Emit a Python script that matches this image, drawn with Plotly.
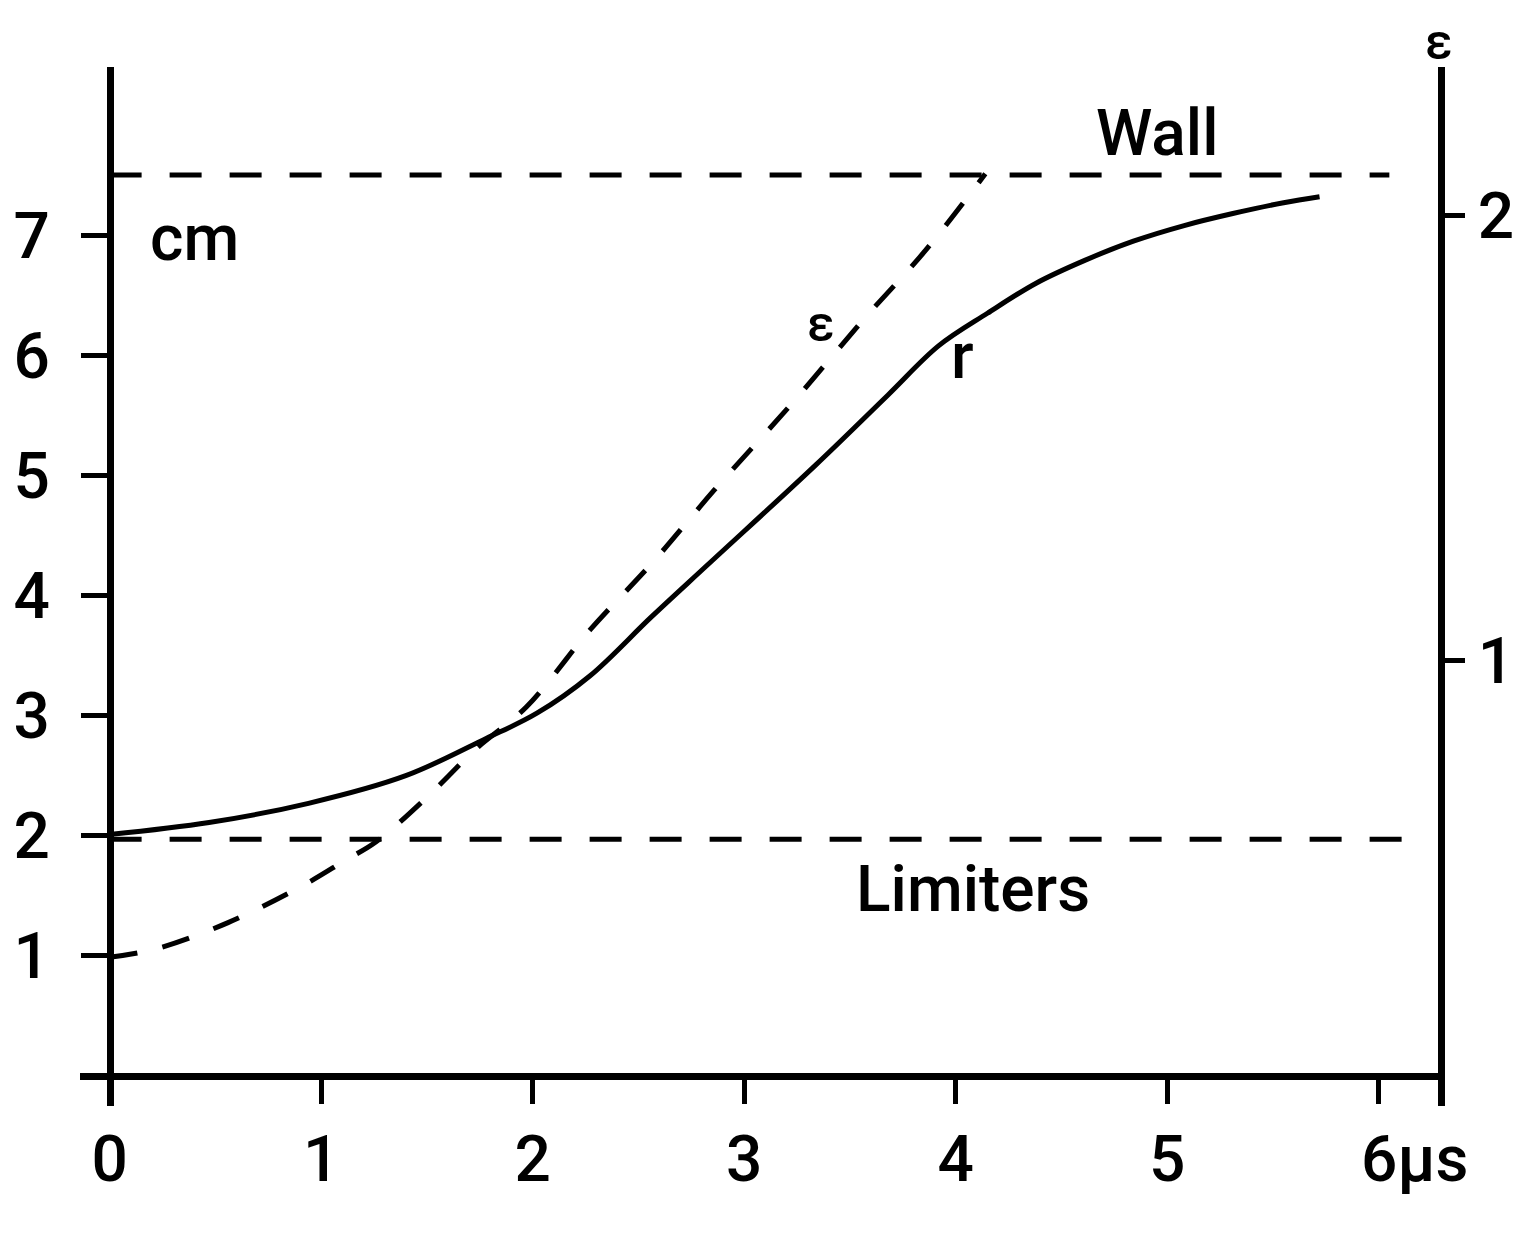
import plotly.graph_objects as go

# ---- data (time in microseconds, radius in cm, epsilon dimensionless) ----
t_r = [0.00, 0.47, 0.94, 1.40, 1.78, 2.02, 2.27, 2.56, 2.83, 3.34, 3.68, 3.92,
       4.15, 4.38, 4.61, 4.84, 5.08, 5.31, 5.55, 5.72]
r_cm = [2.01, 2.11, 2.27, 2.50, 2.81, 3.02, 3.33, 3.82, 4.26, 5.09, 5.67, 6.08,
        6.35, 6.60, 6.79, 6.95, 7.08, 7.18, 7.27, 7.32]

t_eps = [0.00, 0.22, 0.56, 0.92, 1.11, 1.26, 1.50, 1.73, 1.97, 2.27, 2.57, 2.86,
         3.22, 3.57, 3.86, 4.14]
eps = [0.332, 0.351, 0.410, 0.495, 0.549, 0.592, 0.692, 0.800, 0.895, 1.068,
       1.222, 1.384, 1.575, 1.770, 1.924, 2.095]

wall_t = [0.0, 6.05]
wall_cm = [7.5, 7.5]
lim_t = [0.0, 6.18]
lim_cm = [1.97, 1.97]

x_ticks = [0, 1, 2, 3, 4, 5, 6]
x_ticktext = ["0", "1", "2", "3", "4", "5", "\u2007\u20076\u03bcs"]
y_ticks = [1, 2, 3, 4, 5, 6, 7]
eps_ticks = [1, 2]

X_RANGE = [-0.14, 6.28]
Y_RANGE = [-0.25, 8.4]
EPS_OFFSET = -0.24   # cm position of eps = 0
EPS_SCALE = 3.70     # cm per unit eps
eps_range = [(Y_RANGE[0] - EPS_OFFSET) / EPS_SCALE,
             (Y_RANGE[1] - EPS_OFFSET) / EPS_SCALE]

FONT = "Roboto, Lato, 'DejaVu Sans', sans-serif"
FS = 64
INK = "black"

W, H = 1510, 1220
ML, MR, MT, MB = 72, 80, 59, 122
plot_h = H - MT - MB

fig = go.Figure()

fig.add_trace(go.Scatter(x=wall_t, y=wall_cm, mode="lines",
                         line=dict(color=INK, width=5, dash="32px,28px"),
                         showlegend=False, hoverinfo="skip"))
fig.add_trace(go.Scatter(x=lim_t, y=lim_cm, mode="lines",
                         line=dict(color=INK, width=5, dash="32px,28px"),
                         showlegend=False, hoverinfo="skip"))
fig.add_trace(go.Scatter(x=t_r, y=r_cm, mode="lines",
                         line=dict(color=INK, width=5, shape="spline", smoothing=1.0),
                         showlegend=False, hoverinfo="skip"))
fig.add_trace(go.Scatter(x=t_eps, y=eps, mode="lines", yaxis="y2",
                         line=dict(color=INK, width=5, dash="28px,26px",
                                   shape="spline", smoothing=1.0),
                         showlegend=False, hoverinfo="skip"))

x_pos = (0 - Y_RANGE[0]) / (Y_RANGE[1] - Y_RANGE[0])
y_pos = (0 - X_RANGE[0]) / (X_RANGE[1] - X_RANGE[0])

tfont = dict(family=FONT, size=FS, color=INK, weight=500)

fig.update_layout(
    width=W, height=H,
    margin=dict(l=ML, r=MR, t=MT, b=MB, autoexpand=False),
    paper_bgcolor="white", plot_bgcolor="white",
    font=dict(family=FONT, size=FS, color=INK),
    xaxis=dict(range=X_RANGE, anchor="free", position=x_pos, automargin=False,
               showline=True, linecolor=INK, linewidth=7,
               showgrid=False, zeroline=False,
               tickmode="array", tickvals=x_ticks, ticktext=x_ticktext,
               ticks="outside", ticklen=24, tickwidth=5, tickcolor=INK,
               ticklabelstandoff=0, tickfont=tfont),
    yaxis=dict(range=Y_RANGE, anchor="free", position=y_pos, automargin=False,
               showline=True, linecolor=INK, linewidth=7,
               showgrid=False, zeroline=False,
               tickmode="array", tickvals=y_ticks,
               ticktext=[str(v) for v in y_ticks],
               ticks="outside", ticklen=26, tickwidth=5, tickcolor=INK,
               ticklabelstandoff=18, tickfont=tfont),
    yaxis2=dict(range=eps_range, overlaying="y", side="right", anchor="x",
                automargin=False,
                showline=True, linecolor=INK, linewidth=7,
                showgrid=False, zeroline=False,
                tickmode="array", tickvals=eps_ticks,
                ticktext=[str(v) for v in eps_ticks],
                ticks="outside", ticklen=20, tickwidth=5, tickcolor=INK,
                ticklabelstandoff=0, tickfont=tfont),
)

def label(text, x, y, xref="x", yref="y", size=FS, yanchor="middle"):
    fig.add_annotation(text=text, x=x, y=y, xref=xref, yref=yref,
                       showarrow=False, xanchor="center", yanchor=yanchor,
                       font=dict(family=FONT, size=size, color=INK, weight=500))

label("cm", 0.40, 6.97)
label("Wall", 4.95, 7.85)
label("Limiters", 4.08, 1.55)
label("\u03b5", 3.36, 6.26, size=50)
label("r", 4.03, 5.99)
label("\u03b5", 1.0, 1 + (MT - 3) / plot_h, xref="paper", yref="paper",
      size=50, yanchor="top")

fig.write_html("out.html")
